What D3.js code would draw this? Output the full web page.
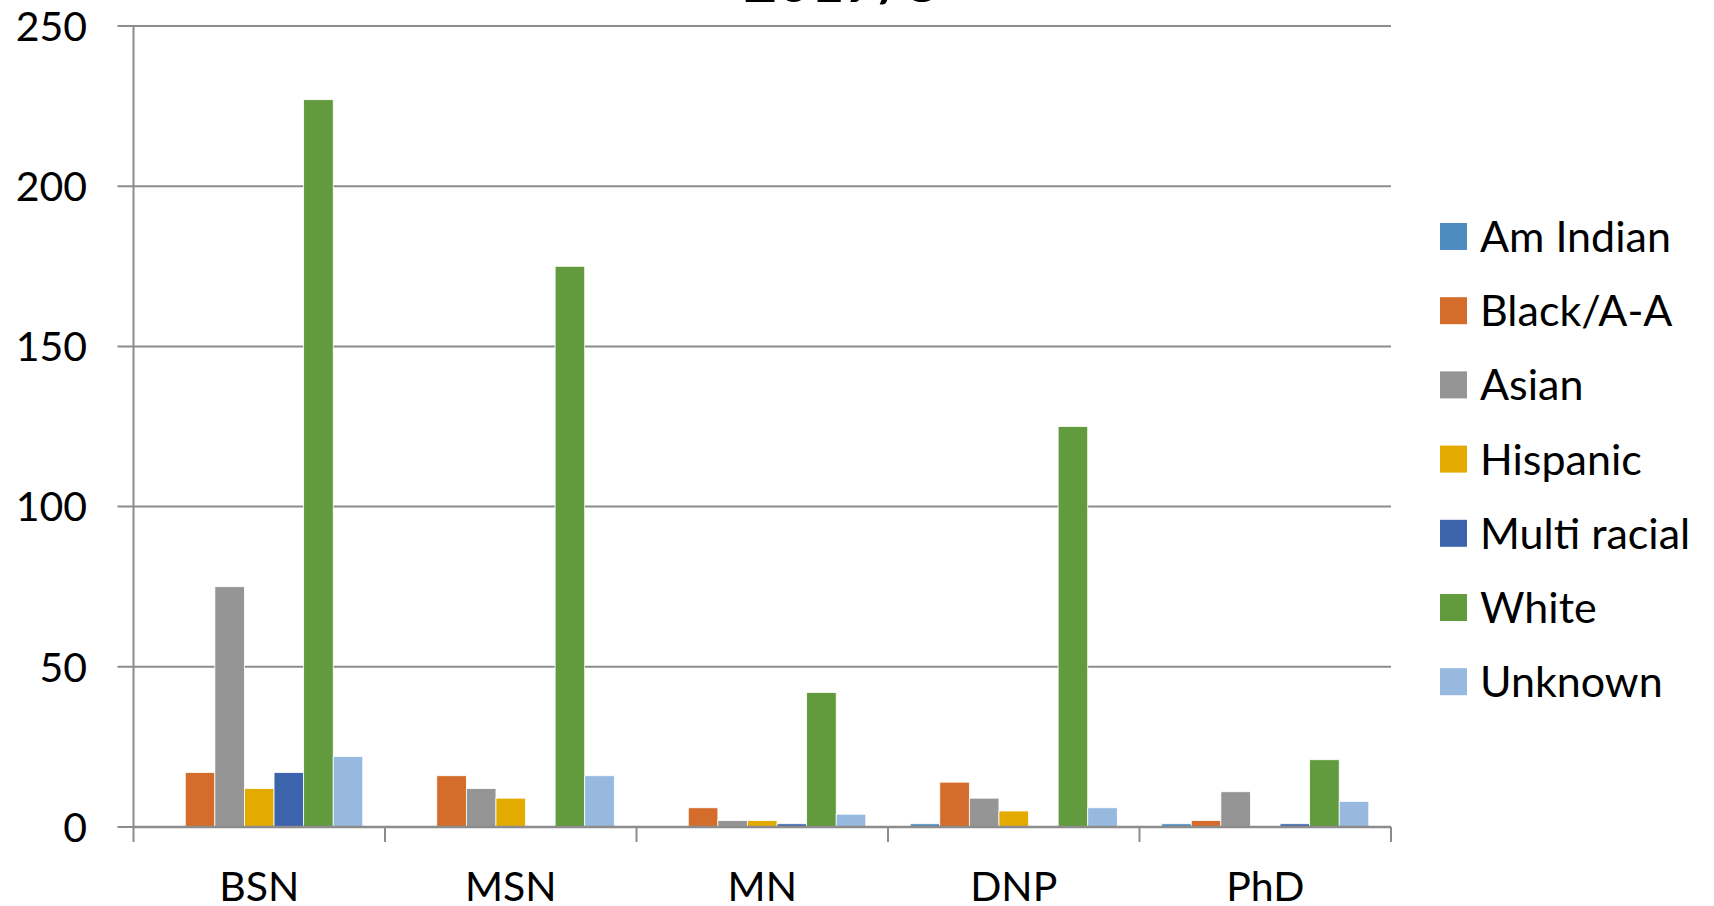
<!DOCTYPE html>
<meta charset="utf-8">
<script src="https://d3js.org/d3.v7.min.js"></script>
<style>
  body { margin: 0; background: #fff; }
  * { font-family: 'Lato'; }
</style>
<div id="my_dataviz"></div>
<script>

// data
const degrees = ["BSN", "MSN", "MN", "DNP", "PhD"];
const groups = ["Am Indian", "Black/A-A", "Asian", "Hispanic", "Multi racial", "White", "Unknown"];
const amIndian = [0, 0, 0, 1, 1];
const black = [17, 16, 6, 14, 2];
const asian = [75, 12, 2, 9, 11];
const hispanic = [12, 9, 2, 5, 0];
const multiRacial = [17, 0, 1, 0, 1];
const white = [227, 175, 42, 125, 21];
const unknown = [22, 16, 4, 6, 8];
const yTicks = [0, 50, 100, 150, 200, 250];
const colors = ["#4e8bbf", "#d46d2b", "#959595", "#e3ab00", "#3c64ad", "#629a3e", "#97b9e0"];

const seriesValues = [amIndian, black, asian, hispanic, multiRacial, white, unknown];
const rows = [];
degrees.forEach(function(d, i) {
  groups.forEach(function(g, j) {
    rows.push({degree: d, group: g, value: seriesValues[j][i]});
  });
});

const W = 1714, H = 906;
const plot = {left: 133.5, right: 1391, top: 26, bottom: 827};

const svg = d3.select("#my_dataviz")
  .append("svg")
    .attr("width", W)
    .attr("height", H);

// scales
const x0 = d3.scaleBand()
  .domain(degrees)
  .range([plot.left, plot.right])
  .padding(0);

const x1 = d3.scaleBand()
  .domain(groups)
  .range([0, x0.bandwidth()])
  .paddingInner(0)
  .paddingOuter(0.75);

const y = d3.scaleLinear()
  .domain([0, 250])
  .range([plot.bottom, plot.top]);

const color = d3.scaleOrdinal()
  .domain(groups)
  .range(colors);

// gridlines + y labels
svg.append("g")
  .selectAll("line")
  .data(yTicks)
  .join("line")
    .attr("x1", plot.left - 16)
    .attr("x2", plot.right)
    .attr("y1", function(d) { return y(d); })
    .attr("y2", function(d) { return y(d); })
    .attr("stroke", "#8c8c8c")
    .attr("stroke-width", 2);

svg.append("g")
  .selectAll("text")
  .data(yTicks)
  .join("text")
    .attr("x", 87)
    .attr("y", function(d) { return y(d); })
    .attr("dy", "0.36em")
    .attr("text-anchor", "end")
    .style("font-size", "41px")
    .text(function(d) { return d; });

// bars
svg.append("g")
  .selectAll("rect")
  .data(rows)
  .join("rect")
    .attr("x", function(d) { return x0(d.degree) + x1(d.group); })
    .attr("y", function(d) { return y(d.value); })
    .attr("width", x1.bandwidth())
    .attr("height", function(d) { return y(0) - y(d.value); })
    .attr("fill", function(d) { return color(d.group); })
    .attr("stroke", "#fff")
    .attr("stroke-width", 0.8);

// axes lines
svg.append("line")
  .attr("x1", plot.left).attr("x2", plot.left)
  .attr("y1", plot.top).attr("y2", plot.bottom + 15)
  .attr("stroke", "#8c8c8c").attr("stroke-width", 2);

svg.append("line")
  .attr("x1", plot.left).attr("x2", plot.right)
  .attr("y1", plot.bottom).attr("y2", plot.bottom)
  .attr("stroke", "#8c8c8c").attr("stroke-width", 2.5);

svg.append("g")
  .selectAll("line")
  .data(degrees)
  .join("line")
    .attr("x1", function(d) { return x0(d) + x0.bandwidth(); })
    .attr("x2", function(d) { return x0(d) + x0.bandwidth(); })
    .attr("y1", plot.bottom)
    .attr("y2", plot.bottom + 15)
    .attr("stroke", "#8c8c8c")
    .attr("stroke-width", 2);

// category labels
svg.append("g")
  .selectAll("text")
  .data(degrees)
  .join("text")
    .attr("x", function(d) { return x0(d) + x0.bandwidth() / 2; })
    .attr("y", 901)
    .attr("text-anchor", "middle")
    .style("font-size", "41px")
    .text(function(d) { return d; });

// title (mostly cut off at the top)
svg.append("text")
  .attr("x", 841)
  .attr("y", 2)
  .attr("text-anchor", "middle")
  .style("font-size", "58px")
  .style("font-weight", "bold")
  .text("2017/8");

// legend
const legend = svg.append("g")
  .selectAll("g")
  .data(groups)
  .join("g")
    .attr("transform", function(d, i) { return "translate(1440," + (236.5 + i * 74.2) + ")"; });

legend.append("rect")
  .attr("x", 0)
  .attr("y", -13.5)
  .attr("width", 27)
  .attr("height", 27)
  .attr("fill", function(d) { return color(d); });

legend.append("text")
  .attr("x", 40)
  .attr("y", 0)
  .attr("dy", "0.36em")
  .style("font-size", "43px")
  .text(function(d) { return d; });

</script>
